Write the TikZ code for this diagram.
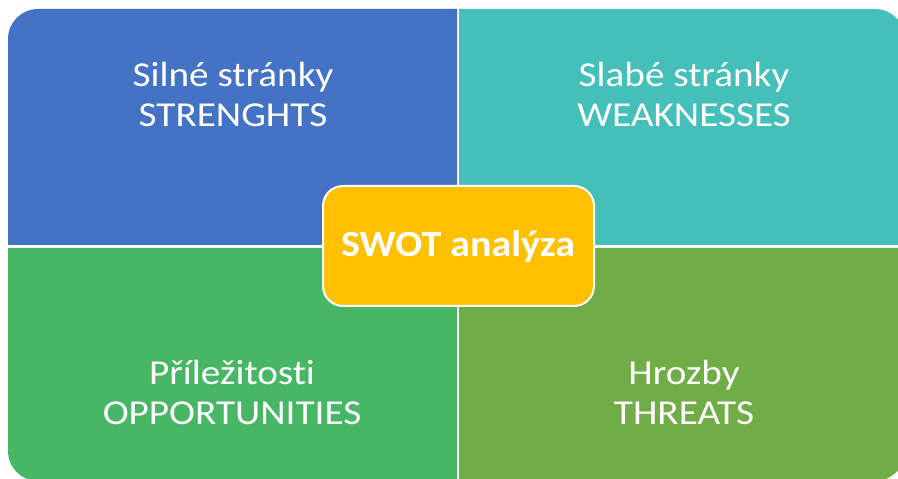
\documentclass[tikz,border=0pt]{standalone}
\usepackage{fontspec}
\setmainfont[Ligatures=NoCommon]{Carlito}
\newfontfamily\quadfont[FakeStretch=1.12,Ligatures=NoCommon]{Carlito}
\newfontfamily\centerfont[FakeStretch=1.08,Ligatures=NoCommon]{Carlito}
\definecolor{qblue}{HTML}{4472C4}
\definecolor{qteal}{HTML}{44BFBA}
\definecolor{qgreen}{HTML}{47B766}
\definecolor{qolive}{HTML}{70AD47}
\definecolor{qyellow}{HTML}{FFC000}
\tikzset{
  qtext/.style={text=white, align=center, anchor=base, inner sep=0pt,
    font=\quadfont\fontsize{35}{40}\selectfont},
  centerbox/.style={rectangle, rounded corners=20pt, fill=qyellow, draw=white,
    line width=2pt, minimum width=271pt, minimum height=120pt, inner sep=0pt},
  centertext/.style={text=white, anchor=base, inner sep=0pt,
    font=\centerfont\bfseries\fontsize{37}{44}\selectfont}
}
\begin{document}
\begin{tikzpicture}[x=1pt,y=1pt]
\useasboundingbox (0,0) rectangle (898,479);
\clip (0,0) rectangle (898,479);
\fill[white] (0,0) rectangle (898,479);
% quadrants
\fill[qblue] (8,234) -- (8,440) arc[start angle=180,end angle=90,radius=30] -- (457,470) -- (457,234) -- cycle;
\fill[qteal] (459,470) -- (875,470) arc[start angle=90,end angle=0,radius=30] -- (905,234) -- (459,234) -- cycle;
\fill[qgreen] (8,231) -- (457,231) -- (457,-2) -- (38,-2) arc[start angle=270,end angle=180,radius=30] -- cycle;
\fill[qolive] (459,231) -- (905,231) -- (905,28) arc[start angle=0,end angle=-90,radius=30] -- (459,-2) -- cycle;
% texts
\node[qtext] (s) at (233,352) {Silné stránky\\STRENGHTS};
\node[qtext] (w) at (684,352) {Slabé stránky\\WEAKNESSES};
\node[qtext] (o) at (232,54) {Příležitosti\\OPPORTUNITIES};
\node[qtext] (t) at (684,54) {Hrozby\\THREATS};
% centre
\node[centerbox] (c) at (458.5,233) {};
\node[centertext] (ct) at (458,222) {SWOT analýza};
\end{tikzpicture}
\end{document}
